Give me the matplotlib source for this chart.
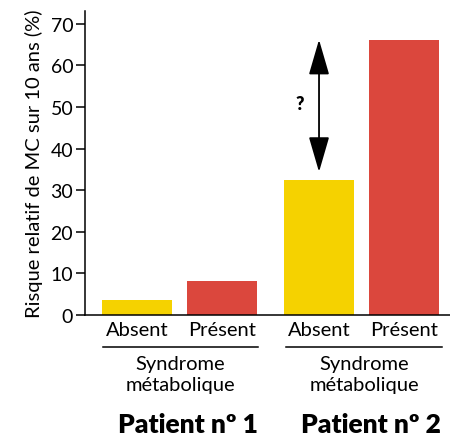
import matplotlib
matplotlib.use("Agg")
import matplotlib.pyplot as plt
from matplotlib.transforms import blended_transform_factory
from matplotlib.patches import FancyArrowPatch

categories = ["Absent", "Présent", "Absent", "Présent"]
values = [3.6, 8.2, 32.5, 66.2]
colors = ["#F5D200", "#DB473D", "#F5D200", "#DB473D"]
group_label = "Syndrome\nmétabolique"
patients = ["Patient nº 1", "Patient nº 2"]
yticks = [0, 10, 20, 30, 40, 50, 60, 70]
ylabel = "Risque relatif de MC sur 10 ans (%)"
arrow_range = [34.4, 66.2]
question = "?"

plt.rcParams['font.family'] = ['Lato', 'DejaVu Sans']

W, H = 450, 439
fig = plt.figure(figsize=(W/100, H/100), dpi=100)
ax = fig.add_axes([85/W, 1-316/H, 1-85/W, (316-12)/H])

xpos = [0.743, 1.957, 3.343, 4.557]
ax.bar(xpos, values, width=1.0, color=colors)
ax.set_xlim(0, 5.214)
ax.set_ylim(0, 73.1)
ax.set_yticks(yticks)
ax.set_xticks([])
for s in ["top", "right"]:
    ax.spines[s].set_visible(False)
for s in ["left", "bottom"]:
    ax.spines[s].set_linewidth(1.1)
ax.tick_params(axis='y', length=6.5, width=1.1, labelsize=14, pad=2)
ax.set_ylabel(ylabel, fontsize=14.5, labelpad=5)

# arrow
arr = FancyArrowPatch((xpos[2], arrow_range[0]), (xpos[2], arrow_range[1]),
                      arrowstyle="<|-|>,head_length=1.1,head_width=0.32",
                      mutation_scale=20, color="black", lw=1.3, shrinkA=0, shrinkB=0)
ax.add_patch(arr)
ax.text(xpos[2]-0.27, 50.8, question, fontsize=13, fontweight='heavy', ha='center', va='center')

tr = blended_transform_factory(ax.transData, fig.transFigure)
def fy(py):
    return 1 - py/H

for x, c in zip(xpos, categories):
    ax.text(x, fy(331), c, transform=tr, ha='center', va='center', fontsize=14.5)

lines = [(0.257, 2.471), (2.871, 5.10)]
for (x0, x1) in lines:
    ax.plot([x0, x1], [fy(348), fy(348)], transform=tr, color='black', lw=1.1, clip_on=False)
    xc = (x0 + x1)/2
    ax.text(xc, fy(375), group_label, transform=tr, ha='center', va='center',
            fontsize=14.5, linespacing=1.25)

for xc, p in zip([1.471, 4.086], patients):
    ax.text(xc, fy(425), p, transform=tr, ha='center', va='center',
            fontsize=19, fontweight='heavy')

fig.savefig("out.png", dpi=100)
